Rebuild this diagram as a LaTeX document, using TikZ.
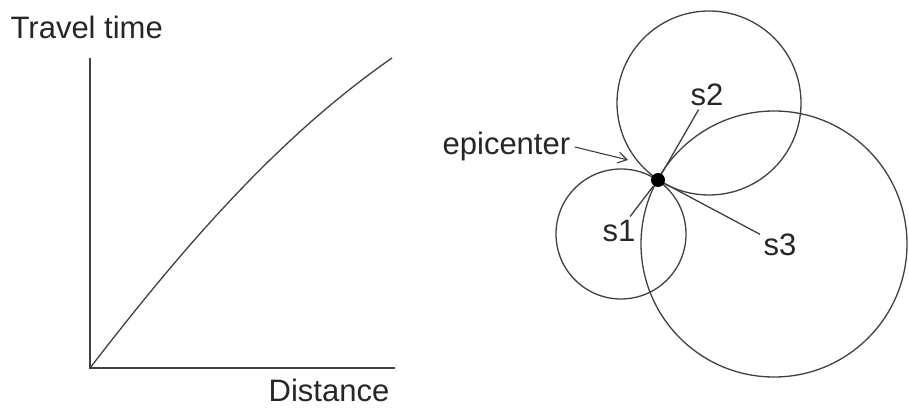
\documentclass[tikz,border=0pt]{standalone}
\usepackage{fontspec}
\setmainfont{Liberation Sans}
\usetikzlibrary{arrows.meta}
\begin{document}
\begin{tikzpicture}[x=1pt,y=1pt,line width=1.3pt,color=black!75,
    font=\fontsize{31}{36}\selectfont,
    lbl/.style={inner sep=3pt,text=black!85},
    >={Straight Barb[length=9pt,width=11pt]}]
        \useasboundingbox (0,0) rectangle (909,407);
        % Grafico
        \coordinate (O) at (90,39);
        \coordinate (ytop) at (90,349);
        \coordinate (xend) at (395,39);
        \draw (ytop) -- (O) -- (xend);
        \draw (O) .. controls (178,153) and (274,267) .. (392,349);
        \node [lbl,anchor=base west,inner sep=0pt] (tt) at (10,368) {Travel time};
        \node [lbl,anchor=base west,inner sep=0pt] (dist) at (268,6) {Distance};
        % Cerchi
        \draw (621,173) circle [radius=65];
        \draw (709,304) circle [radius=92];
        \draw (774,163) circle [radius=133];
        \node [circle,fill=black,inner sep=0pt,minimum size=14pt] (epi) at (658,227) {};
        \node [lbl] (s1) at (619,176) {s1};
        \node [lbl] (s2) at (707,312) {s2};
        \node [lbl] (s3) at (780,162) {s3};
        \draw (epi) -- (s1);
        \draw (epi) -- (s2);
        \draw (epi) -- (s3);
        % Etichetta
        \node [lbl,anchor=base west,inner sep=0pt] (epl) at (442,252) {epicenter};
        \coordinate (tip) at (628,247);
        \draw [->,line width=1.1pt] (epl.east) ++(4,0) -- (tip);
    \end{tikzpicture}
\end{document}
